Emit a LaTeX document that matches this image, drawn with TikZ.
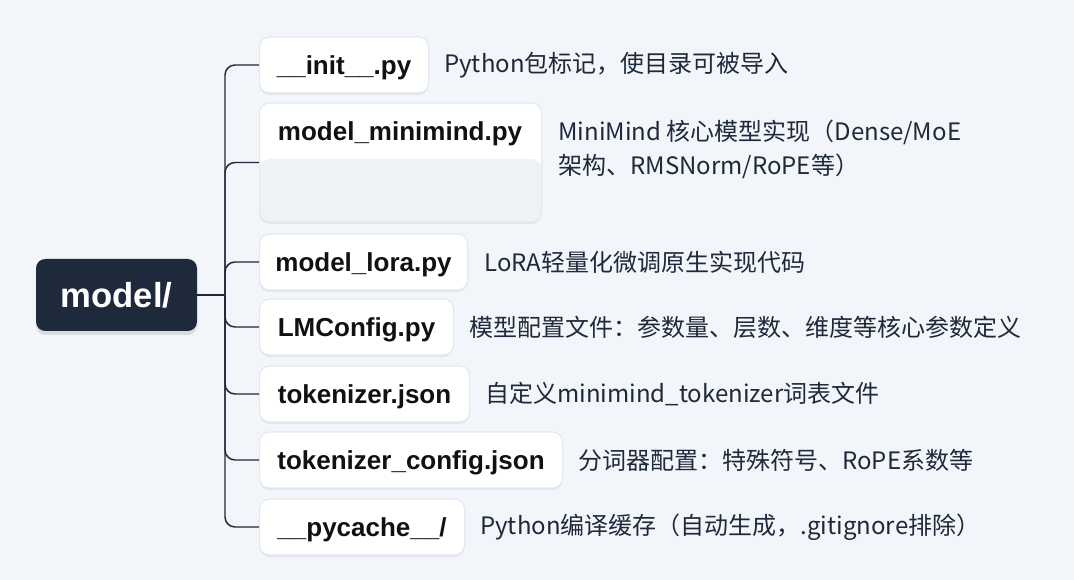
\documentclass[tikz,border=0pt]{standalone}
\usepackage{fontspec}
\setmainfont{Liberation Sans}
\newfontfamily\cjk{Noto Sans CJK SC}
\usetikzlibrary{shadows}
\definecolor{bg}{HTML}{F2F5F9}
\definecolor{navy}{HTML}{1E293B}
\definecolor{boxline}{HTML}{E2E8F0}
\definecolor{boxlow}{HTML}{EEF2F6}
\definecolor{labeltext}{HTML}{111111}
\tikzset{
  filebox/.style={draw=boxline, line width=0.8pt, fill=white, rounded corners=7.5pt,
    minimum height=42pt, inner sep=0pt, anchor=west, text height=15.5pt, text depth=1pt,
    font=\bfseries\fontsize{19.5}{22}\selectfont, text=labeltext,
    drop shadow={shadow xshift=0pt, shadow yshift=-1.5pt, opacity=0.06, fill=black}},
  desc/.style={anchor=west, inner sep=0pt, text=navy, font=\cjk\fontsize{18}{25.5}\selectfont, align=left},
  rootbox/.style={fill=navy, rounded corners=7pt, text=white, inner sep=0pt,
    minimum width=120.75pt, minimum height=54pt, font=\bfseries\fontsize{26}{30}\selectfont,
    drop shadow={shadow xshift=0pt, shadow yshift=-3pt, opacity=0.10, fill=black}},
  branch/.style={draw=navy, line width=1.1pt, rounded corners=7.5pt}
}
\begin{document}
\begin{tikzpicture}[x=0.75pt,y=-0.75pt]
\fill[bg] (0,0) rectangle (1074,580);
\useasboundingbox (0,0) rectangle (1074,580);

\node[rootbox] (root) at (116.5,295) {model/};
\coordinate (j) at (225,295);

\node[filebox, minimum width=126.75pt] (f1) at (259,65) {\_\_init\_\_.py};
\node[filebox, minimum width=211.5pt, minimum height=89.25pt,
  path picture={\fill[boxlow] ([yshift=-42pt]path picture bounding box.north west) rectangle (path picture bounding box.south east);}]
  (f2) at (259,162.5) {};
\node[anchor=center, inner sep=0pt, font=\bfseries\fontsize{19.5}{22}\selectfont, text=labeltext] (f2t) at (400,134) {model\_minimind.py};
\node[filebox, minimum width=156pt] (f3) at (259,262) {model\_lora.py};
\node[filebox, minimum width=145.5pt] (f4) at (259,327) {LMConfig.py};
\node[filebox, minimum width=157.5pt] (f5) at (259,394) {tokenizer.json};
\node[filebox, minimum width=227.25pt] (f6) at (259,460) {tokenizer\_config.json};
\node[filebox, minimum width=153.75pt] (f7) at (259,527) {\_\_pycache\_\_/};

\node[desc] (d1) at (444,65) {Python包标记，使目录可被导入};
\node[desc] (d2) at (558,149) {MiniMind 核心模型实现（Dense/MoE\\架构、RMSNorm/RoPE等）};
\node[desc] (d3) at (484,262) {LoRA轻量化微调原生实现代码};
\node[desc] (d4) at (469,327) {模型配置文件：参数量、层数、维度等核心参数定义};
\node[desc] (d5) at (485,394) {自定义minimind\_tokenizer词表文件};
\node[desc] (d6) at (578,460) {分词器配置：特殊符号、RoPE系数等};
\node[desc] (d7) at (480,527) {Python编译缓存（自动生成，.gitignore排除）};

\draw[branch] (root.east) -- (j);
\draw[branch] (j) |- (f1.west);
\draw[branch] (j) |- (f2.west);
\draw[branch] (j) |- (f3.west);
\draw[branch] (j) |- (f4.west);
\draw[branch] (j) |- (f5.west);
\draw[branch] (j) |- (f6.west);
\draw[branch] (j) |- (f7.west);
\end{tikzpicture}
\end{document}
